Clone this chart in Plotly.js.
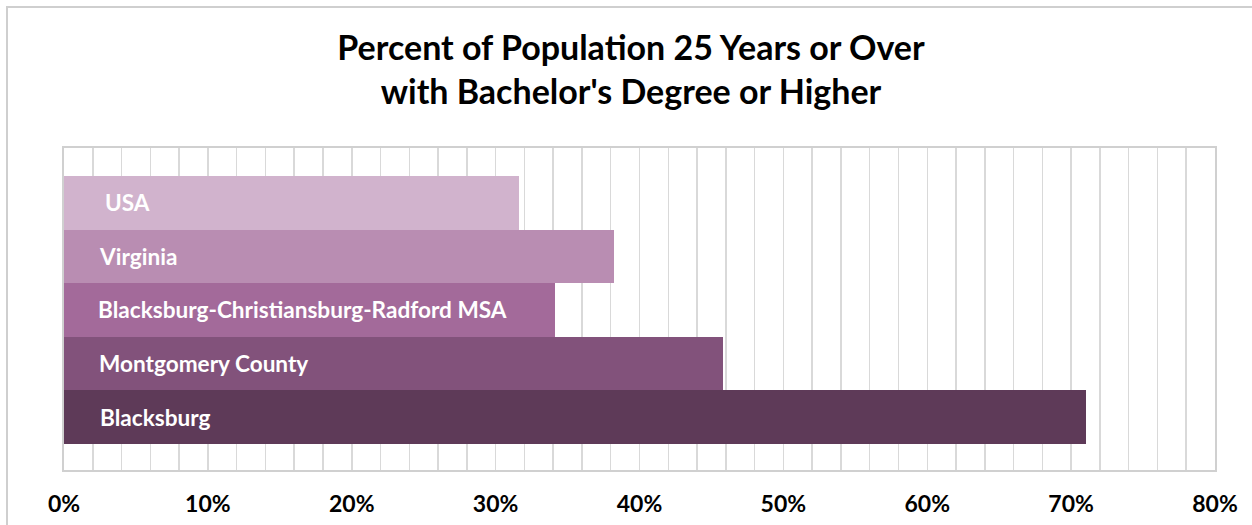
<!DOCTYPE html>
<html>
<head>
<meta charset="utf-8">
<script src="https://cdn.plot.ly/plotly-3.0.1.min.js"></script>
<style>
  html, body { margin:0; padding:0; background:#fff; }
  #wrap { position:relative; width:1252px; height:525px; overflow:hidden; }
  #chart { width:1252px; height:525px; }
  #frame { position:absolute; left:6px; top:6px; width:1300px; height:600px; border:2px solid #CFCFCF; pointer-events:none; box-sizing:border-box; }
</style>
</head>
<body>
<div id="wrap">
  <div id="chart"></div>
  <div id="frame"></div>
</div>
<script>
const categories = ["USA", "Virginia", "Blacksburg-Christiansburg-Radford MSA", "Montgomery County", "Blacksburg"];
const values = [0.316, 0.382, 0.341, 0.458, 0.710];
const barColors = ["#D1B3CD", "#B98DB2", "#A36A9A", "#82527B", "#5E3A58"];
const labelOffsets = [39, 33, 32, 33, 34];
const tickVals = [0, 0.1, 0.2, 0.3, 0.4, 0.5, 0.6, 0.7, 0.8];
const tickText = ["0%", "10%", "20%", "30%", "40%", "50%", "60%", "70%", "80%"];
const FONT = "Lato, 'DejaVu Sans', sans-serif";

const trace = {
  type: "bar",
  orientation: "h",
  x: values,
  y: categories,
  marker: { color: barColors, line: { width: 0 } },
  hoverinfo: "x+y",
  showlegend: false
};

const annotations = categories.map((c, i) => ({
  x: 0, y: c, xref: "x", yref: "y",
  text: "<b>" + c + "</b>",
  showarrow: false,
  xanchor: "left", yanchor: "middle",
  xshift: labelOffsets[i],
  font: { family: FONT, size: 22.6, color: "#FFFFFF" }
}));

const layout = {
  width: 1252, height: 525,
  paper_bgcolor: "#FFFFFF", plot_bgcolor: "#FFFFFF",
  margin: { l: 64, r: 37, t: 148, b: 55, pad: 0 },
  title: {
    text: "<b>Percent of Population 25 Years or Over<br>with Bachelor's Degree or Higher</b>",
    font: { family: FONT, size: 34, color: "#000000" },
    x: 0.504, xanchor: "center",
    y: 0.886, yanchor: "middle", yref: "container"
  },
  bargap: 0,
  xaxis: {
    range: [0, 0.8],
    tickvals: tickVals, ticktext: tickText.map(t => "<b>" + t + "</b>"),
    tickfont: { family: FONT, size: 23, color: "#000000" },
    showgrid: true, gridcolor: "#D9D9D9", gridwidth: 1.5,
    minor: { dtick: 0.02, tick0: 0, showgrid: true, gridcolor: "#D9D9D9", gridwidth: 1.5, ticklen: 0 },
    showline: true, linecolor: "#D0D0D0", linewidth: 2, mirror: true,
    ticks: "", ticklabelstandoff: 12,
    zeroline: false, fixedrange: true
  },
  yaxis: {
    type: "category",
    range: [4.986, -1.023],
    showticklabels: false, ticks: "",
    showgrid: false, zeroline: false,
    showline: true, linecolor: "#D0D0D0", linewidth: 2, mirror: true,
    fixedrange: true
  },
  annotations: annotations
};

Plotly.newPlot("chart", [trace], layout, { displayModeBar: false, staticPlot: true });
</script>
</body>
</html>
